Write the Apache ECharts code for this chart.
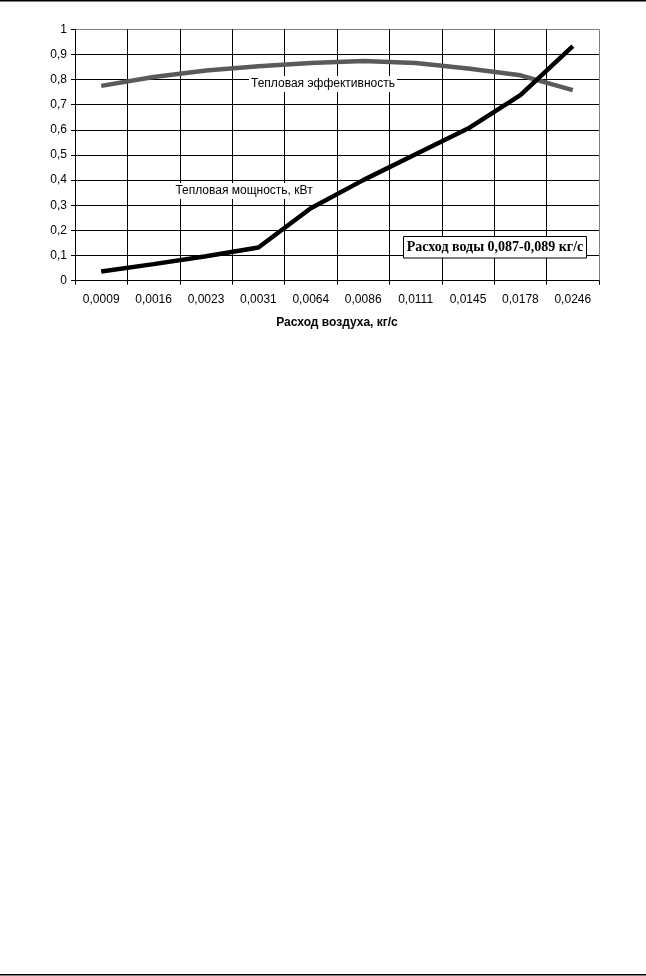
<!DOCTYPE html>
<html>
<head>
<meta charset="utf-8">
<style>
html,body{margin:0;padding:0;background:#fff;}
#chart{width:646px;height:976px;}
</style>
<script src="https://cdn.jsdelivr.net/npm/echarts@6/dist/echarts.min.js"></script>
</head>
<body>
<div id="chart"></div>
<script>
const categories = ['0,0009','0,0016','0,0023','0,0031','0,0064','0,0086','0,0111','0,0145','0,0178','0,0246'];
const efficiency = [0.775, 0.81, 0.836, 0.853, 0.866, 0.874, 0.866, 0.844, 0.817, 0.758];
const power = [0.037, 0.066, 0.097, 0.132, 0.288, 0.40, 0.503, 0.605, 0.738, 0.933];
const effLabel = 'Тепловая эффективность';
const powLabel = 'Тепловая мощность, кВт';
const boxText = 'Расход воды 0,087-0,089 кг/с';
const xTitle = 'Расход воздуха, кг/с';

const gridColors = [];
for (let i = 0; i < 10; i++) gridColors.push('#000');
gridColors.push('#808080');

const chart = echarts.init(document.getElementById('chart'));
chart.setOption({
  animation: false,
  backgroundColor: '#fff',
  grid: {left: 75, right: 47, top: 29.3, bottom: 695.3, containLabel: false},
  xAxis: {
    type: 'category',
    data: categories,
    boundaryGap: true,
    name: xTitle,
    nameLocation: 'middle',
    nameGap: 36,
    nameTextStyle: {fontFamily: 'Liberation Sans', fontSize: 12, fontWeight: 'bold', color: '#000'},
    axisLine: {lineStyle: {color: '#000', width: 1}},
    axisTick: {show: true, length: 4, lineStyle: {color: '#000'}, alignWithLabel: false},
    axisLabel: {fontFamily: 'Liberation Sans', fontSize: 12, color: '#000', margin: 13, interval: 0},
    splitLine: {show: true, interval: 0, lineStyle: {color: gridColors, width: 1}}
  },
  yAxis: {
    type: 'value',
    min: 0, max: 1, interval: 0.1,
    axisLine: {show: true, lineStyle: {color: '#000', width: 1}},
    axisTick: {show: true, length: 4, lineStyle: {color: '#000'}},
    axisLabel: {
      fontFamily: 'Liberation Sans', fontSize: 12, color: '#000', margin: 8,
      formatter: v => (Math.round(v * 10) / 10).toString().replace('.', ',')
    },
    splitLine: {show: true, lineStyle: {color: gridColors, width: 1}}
  },
  series: [
    {
      name: effLabel, type: 'line', data: efficiency, symbol: 'none', smooth: false,
      lineStyle: {color: '#5a5a5a', width: 4.5}, z: 3
    },
    {
      name: powLabel, type: 'line', data: power, symbol: 'none', smooth: false,
      lineStyle: {color: '#000', width: 4.5}, z: 4
    }
  ],
  graphic: [
    {type: 'line', shape: {x1: 0, y1: 0.7, x2: 646, y2: 0.7}, style: {stroke: '#000', lineWidth: 1.4}},
    {type: 'line', shape: {x1: 0, y1: 974.7, x2: 646, y2: 974.7}, style: {stroke: '#000', lineWidth: 1.5}},
    {type: 'text', x: 323, y: 84, z: 10, style: {text: effLabel, fontFamily: 'Liberation Sans', fontSize: 12, fill: '#000', align: 'center', verticalAlign: 'middle', backgroundColor: '#fff', padding: [2, 2, 2, 2]}},
    {type: 'text', x: 244, y: 191, z: 10, style: {text: powLabel, fontFamily: 'Liberation Sans', fontSize: 12, fill: '#000', align: 'center', verticalAlign: 'middle', backgroundColor: '#fff', padding: [2, 2, 2, 2]}},
    {type: 'rect', z: 10, shape: {x: 403.5, y: 236.5, width: 183, height: 21.5}, style: {fill: '#fff', stroke: '#000', lineWidth: 1}},
    {type: 'text', x: 495, y: 247.5, z: 11, style: {text: boxText, fontFamily: 'Liberation Serif', fontSize: 14, fontWeight: 'bold', fill: '#000', align: 'center', verticalAlign: 'middle'}}
  ]
});
</script>
</body>
</html>
